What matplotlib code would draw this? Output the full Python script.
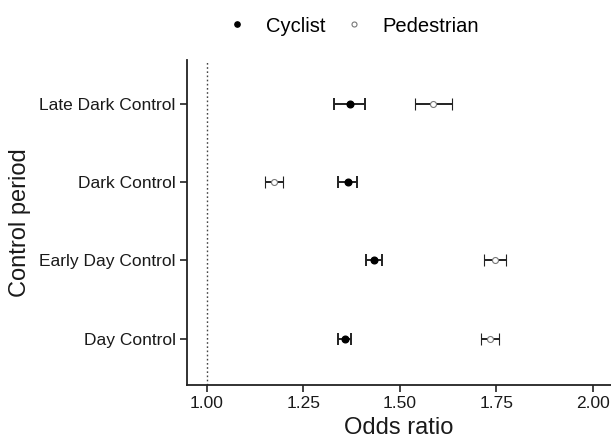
import matplotlib
matplotlib.use('Agg')
import matplotlib.pyplot as plt
from matplotlib.lines import Line2D

plt.rcParams['font.family'] = ['Liberation Sans', 'DejaVu Sans']

# data
periods = ['Day Control', 'Early Day Control', 'Dark Control', 'Late Dark Control']
cyc_or = [1.358, 1.433, 1.365, 1.370]
cyc_lo = [1.340, 1.412, 1.341, 1.329]
cyc_hi = [1.374, 1.454, 1.388, 1.410]
ped_or = [1.734, 1.747, 1.173, 1.585]
ped_lo = [1.709, 1.718, 1.150, 1.539]
ped_hi = [1.757, 1.775, 1.197, 1.634]
xticks = [1.00, 1.25, 1.50, 1.75, 2.00]

fig = plt.figure(figsize=(6.11, 4.42), dpi=100)
ax = fig.add_axes([0.3056, 0.129, 0.6944, 0.735])

ypos = list(range(1, len(periods) + 1))

ax.axvline(1.0, color='#444444', linestyle=(0, (1.2, 1.8)), linewidth=1.0, zorder=1)

ax.errorbar(cyc_or, ypos,
            xerr=[[o - l for o, l in zip(cyc_or, cyc_lo)], [h - o for o, h in zip(cyc_or, cyc_hi)]],
            fmt='o', color='black', ecolor='#222222', markersize=4.8, elinewidth=1.4,
            capsize=4.5, capthick=1.4, zorder=3)
ax.errorbar(ped_or, ypos,
            xerr=[[o - l for o, l in zip(ped_or, ped_lo)], [h - o for o, h in zip(ped_or, ped_hi)]],
            fmt='o', mfc='white', mec='#777777', mew=0.8, ecolor='#222222', markersize=4.3,
            elinewidth=1.4, capsize=4.5, capthick=1.4, zorder=3)

ax.set_xlim(0.948, 2.047)
ax.set_ylim(0.414, 4.553)
ax.set_xticks(xticks)
ax.set_xticklabels([f'{v:.2f}' for v in xticks])
ax.set_yticks(ypos)
ax.set_yticklabels(periods)

for s in ['top', 'right']:
    ax.spines[s].set_visible(False)
for s in ['left', 'bottom']:
    ax.spines[s].set_linewidth(1.3)
    ax.spines[s].set_color('#222222')

ax.tick_params(axis='both', direction='out', length=5, width=1.2, color='#222222',
               labelsize=12.5, labelcolor='#1a1a1a', pad=3)
ax.set_xlabel('Odds ratio', fontsize=17, color='#1a1a1a', labelpad=4)
ax.set_ylabel('Control period', fontsize=17, color='#1a1a1a', labelpad=6)

handles = [
    Line2D([], [], marker='o', linestyle='none', color='black', markersize=3.8),
    Line2D([], [], marker='o', linestyle='none', mfc='white', mec='#777777', mew=0.8, markersize=3.6),
]
fig.legend(handles, ['Cyclist', 'Pedestrian'], loc='center', bbox_to_anchor=(353 / 611, 1 - 26 / 442),
           ncol=2, frameon=False, fontsize=14.5, handlelength=1.0, handletextpad=0.95,
           columnspacing=0.9)

fig.savefig('out.png', dpi=100)
